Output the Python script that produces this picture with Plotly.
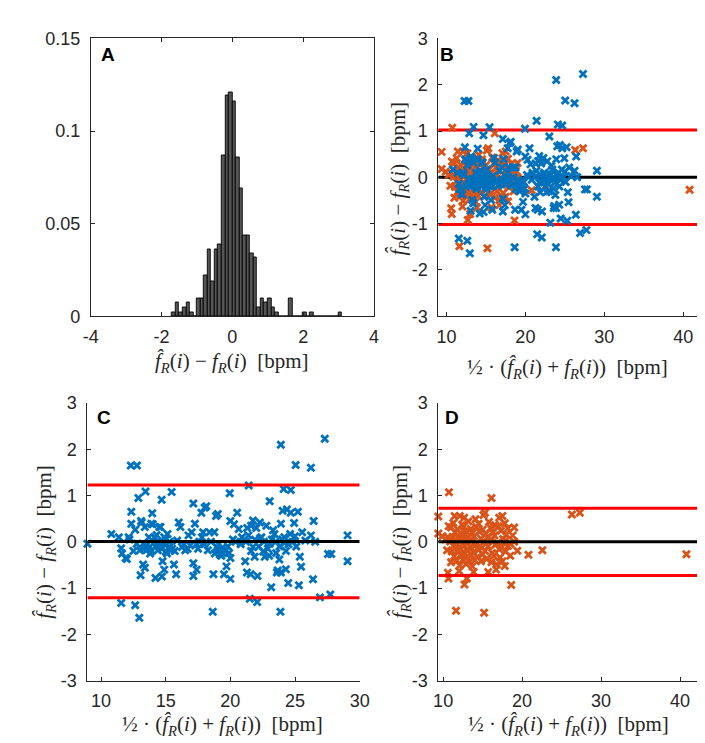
import plotly.graph_objects as go

W, H = 705, 743

# ---------------- data ----------------
hist_centers = [-1.65, -1.55, -1.45, -1.35, -1.25, -1.15, -1.05, -0.95, -0.85, -0.75,
                -0.65, -0.55, -0.45, -0.35, -0.25, -0.15, -0.05, 0.05, 0.15, 0.25,
                0.35, 0.45, 0.55, 0.65, 0.75, 0.85, 0.95, 1.05, 1.15, 1.25,
                1.35, 1.45, 1.55, 1.65, 1.75, 1.85, 1.95, 2.05, 2.15, 2.25,
                2.35, 2.45, 2.55, 2.65, 2.75, 2.85, 2.95, 3.05]
hist_density = [0.0023, 0.0074, 0.0023, 0.0047, 0.0074, 0.0023, 0.0, 0.0096, 0.0096, 0.022,
                0.036, 0.019, 0.036, 0.0386, 0.087, 0.119, 0.121, 0.116, 0.0856, 0.069,
                0.0437, 0.0437, 0.034, 0.0316, 0.0049, 0.0096, 0.0074, 0.0096, 0.0049, 0.0023,
                0.0, 0.0, 0.0, 0.0096, 0.0, 0.0, 0.0, 0.0023, 0.0, 0.0023,
                0.0, 0.0, 0.0, 0.0, 0.0, 0.0, 0.0, 0.0023]

blue_mean = [8.95, 10.8, 11.38, 11.56, 11.63, 11.9, 12.0, 12.14, 12.34, 12.34,
             12.3, 12.78, 11.56, 12.64, 12.96, 12.64, 12.76, 12.89, 13.0, 13.14,
             13.26, 13.39, 13.06, 13.44, 13.39, 13.26, 13.51, 13.76, 13.89, 13.96,
             14.14, 14.21, 14.39, 14.51, 14.56, 14.69, 14.71, 14.76, 14.89, 14.89,
             15.01, 15.14, 15.26, 15.46, 15.64, 15.81, 15.89, 16.01, 16.14, 16.26,
             16.51, 16.76, 17.01, 17.14, 17.14, 17.14, 17.26, 17.39, 17.39, 17.76,
             17.89, 18.01, 18.14, 18.26, 18.39, 18.64, 18.69, 18.76, 18.89, 18.96,
             19.26, 19.03, 19.03, 19.40, 19.9, 19.95, 20.28, 20.53, 20.65, 20.4,
             21.15, 21.28, 21.4, 21.42, 21.5, 21.57, 21.6, 21.75, 21.75, 21.88,
             22.07, 22.1, 22.28, 22.53, 22.66, 22.78, 23.04, 23.04, 23.16, 23.41,
             23.54, 23.66, 23.79, 23.87, 23.91, 24.04, 24.12, 24.17, 24.29, 24.37,
             24.47, 24.62, 24.67, 24.67, 24.93, 25.05, 25.22, 25.3, 25.37, 25.47,
             25.55, 25.8, 26.23, 26.23, 26.39, 26.44, 26.56, 26.93, 27.55, 27.8,
             27.73, 29.06, 29.06, 23.9, 27.3, 19.5, 19.7, 20.0, 20.0, 23.6,
             23.9, 14.0, 14.6, 13.1,
             13.3, 13.6, 13.9, 14.2, 14.4, 14.7, 14.9, 15.1, 15.3, 15.5,
             15.7, 15.0, 14.3, 13.7, 16.4, 16.7, 17.6, 17.5, 17.8, 18.0,
             18.5, 18.8, 19.1, 19.3, 19.6, 19.8, 20.0, 20.2, 20.8, 21.2,
             21.6, 21.9, 22.2, 22.4, 22.6, 22.9, 23.2, 23.5, 23.8, 24.0,
             24.3, 24.5, 24.8, 25.1, 23.3, 22.0, 21.3, 20.9, 12.5, 12.2,
             13.8, 14.5, 15.4, 16.9, 19.4, 19.2, 22.3, 24.2, 25.0, 23.0]
blue_diff = [-0.04, 0.17, 0.10, -0.14, -0.25, -0.35, -0.37, 0.10, 0.39, 0.65,
             1.65, 1.65, -1.32, -1.37, -1.64, 0.26, -0.04, 0.95, -0.18, 0.42,
             -0.49, -0.56, -0.72, 1.09, 0.32, -0.04, -0.18, -0.11, 0.39, 0.62,
             0.10, -0.78, -0.18, 0.32, -0.04, 0.91, -0.75, -0.42, -0.60, 0.10,
             -0.21, 0.17, -0.11, 1.08, -0.49, -0.70, 0.03, 0.42, 0.32, -0.11,
             -0.18, 0.14, 0.21, 0.83, -0.46, -0.74, 0.39, -0.60, -0.04, 0.63,
             0.21, 0.74, 0.77, -0.18, 0.21, -1.51, -0.70, 0.21, 0.56, -0.11,
             -0.18, 0.60, -0.17, -0.24, -0.24, 1.05, 0.38, 0.63, 0.28, 0.0,
             -0.42, -0.66, 0.14, 1.22, -1.23, -0.70, 0.35, 0.46, -0.11, -0.32,
             -1.30, -0.74, 0.42, -0.21, -0.32, 0.35, 0.88, -0.04, -0.98, 0.17,
             -0.24, -0.62, -0.38, -1.51, 0.39, 0.67, 1.14, 0.10, -0.59, 0.70,
             -0.89, 0.17, 1.12, 0.63, 0.41, 1.66, 0.65, -0.94, -0.32, -0.54,
             0.21, 0.03, 1.60, 0.14, -0.81, 0.45, 0.0, -1.20, -0.26, -0.26,
             -1.14, 0.14, -0.42, 2.10, 2.23, -0.70, -0.53, -0.80, 0.45, -0.66,
             -0.66, 0.38, 0.32, 0.45,
             -0.15, -0.05, -0.20, -0.10, 0.00, -0.15, -0.05, -0.25, 0.00, -0.15,
             -0.20, 0.05, 0.15, 0.10, -0.05, -0.15, 0.00, -0.15, 0.10, -0.05,
             0.00, -0.25, -0.05, -0.30, -0.20, -0.10, -0.35, 0.05, -0.05, 0.00,
             -0.20, 0.05, -0.10, 0.10, 0.00, -0.15, 0.05, 0.00, -0.10, 0.05,
             -0.20, -0.05, 0.00, -0.10, 0.25, 0.30, 0.30, 0.10, -0.20, 0.05,
             -0.25, -0.10, -0.18, -0.08, -0.12, -0.28, 0.08, -0.02, 0.12, -0.30]

orange_mean = [9.39, 9.39, 10.74, 16.12, 10.7, 10.5, 10.6, 10.6, 10.67, 11.0,
               11.64, 15.19, 12.7, 13.0, 12.03, 13.86, 15.7, 16.7, 16.12, 17.5,
               19.39, 20.8, 22.56, 18.62, 19.0, 18.8, 17.5, 17.1, 15.1, 15.3,
               14.1, 12.66, 11.45, 12.1, 26.3, 27.3, 40.8, 19.0, 18.5, 10.3,
               9.9,
               11.3, 12.4, 13.2, 14.5, 15.8, 16.6, 17.8,
               11.0, 11.8, 12.6, 13.5, 14.2, 15.0, 16.0, 17.0, 18.2,
               11.5, 12.2, 12.9, 13.7, 14.6, 15.4, 16.3, 17.3, 18.0,
               11.2, 11.9, 12.5, 13.2, 13.9, 14.8, 15.6, 16.5, 17.6,
               10.9, 11.6, 12.3, 13.0, 13.6, 14.3, 15.2, 16.1, 16.9, 17.8, 18.5,
               11.3, 12.0, 12.7, 13.4, 14.1, 14.9, 15.7, 16.6, 17.4, 18.2,
               11.1, 11.8, 12.5, 13.1, 13.8, 14.5, 15.3, 16.2, 17.1, 17.9,
               11.4, 12.2, 12.9, 13.6, 14.4, 15.0, 16.4, 17.2,
               11.7, 12.5, 13.3, 14.0, 14.8, 15.5,
               12.1, 12.9, 13.7, 16.8, 17.8]
orange_diff = [0.55, 0.18, 1.07, 0.95, 0.34, -0.18, 0.10, -0.67, -0.79, -0.44,
               -1.49, -1.53, -0.92, -0.79, -0.63, -0.65, -0.65, -0.60, -0.44, -0.42,
               -0.19, -0.28, -0.18, -0.93, 0.31, 0.14, 0.56, 0.52, 0.58, 0.63,
               0.49, 0.52, 0.56, 0.56, 0.59, 0.63, -0.27, 0.00, -0.30, 0.05,
               0.12,
               0.41, 0.37, 0.44, 0.39, 0.43, 0.36, 0.40,
               0.31, 0.27, 0.33, 0.28, 0.32, 0.26, 0.30, 0.34, 0.29,
               0.21, 0.18, 0.23, 0.19, 0.22, 0.17, 0.20, 0.24, 0.16,
               0.11, 0.08, 0.13, 0.09, 0.12, 0.07, 0.10, 0.14, 0.06,
               0.01, -0.02, 0.03, -0.01, 0.02, -0.03, 0.00, 0.04, -0.02, 0.01, -0.04,
               -0.09, -0.12, -0.08, -0.11, -0.07, -0.13, -0.10, -0.06, -0.12, -0.09,
               -0.21, -0.18, -0.22, -0.19, -0.23, -0.17, -0.20, -0.24, -0.16, -0.21,
               -0.31, -0.28, -0.33, -0.29, -0.32, -0.27, -0.30, -0.34,
               -0.41, -0.38, -0.43, -0.39, -0.42, -0.37,
               -0.51, -0.48, -0.53, -0.49, -0.52]

bias_all, loa_all = 0.0, 1.02
bias_blue, loa_blue = 0.01, 1.22
bias_orange, loa_orange = 0.0, 0.725

# ---------------- styling helpers ----------------
BLUE = "#0072BD"
ORANGE = "#D95319"
AX = "#262626"
TICKFONT = dict(family="Liberation Sans, Arial, sans-serif", size=18, color=AX)


def px_x(p):
    return p / W


def px_y(p):
    return 1 - p / H


dom = {
    "A": ([px_x(76.7), px_x(367.3)], [px_y(306.5), px_y(21)]),
    "B": ([px_x(433.3), 1.0], [px_y(306.5), px_y(21)]),
    "C": ([px_x(73.3), px_x(352.7)], [px_y(681), px_y(395.7)]),
    "D": ([px_x(433.3), 1.0], [px_y(681), px_y(395.7)]),
}
xr = {"A": [-4, 4], "B": [8.96, 42.5], "C": [8.95, 30], "D": [9.38, 42.9]}
yr = {"A": [0, 0.15], "B": [-3, 3], "C": [-3, 3], "D": [-3, 3]}
names = ["A", "B", "C", "D"]
axid = {"A": ("x", "y"), "B": ("x2", "y2"), "C": ("x3", "y3"), "D": ("x4", "y4")}

fig = go.Figure()

# Panel A histogram
fig.add_trace(go.Bar(x=hist_centers, y=hist_density, width=0.1,
                     marker=dict(color="#555555", line=dict(color="#000000", width=0.9)),
                     xaxis="x", yaxis="y", showlegend=False))


def hline(panel, yv, color):
    xa, ya = axid[panel]
    fig.add_trace(go.Scatter(x=xr[panel], y=[yv, yv], mode="lines",
                             line=dict(color=color, width=3),
                             xaxis=xa, yaxis=ya, showlegend=False, hoverinfo="skip"))


def pts(panel, xs, ys, color):
    xa, ya = axid[panel]
    fig.add_trace(go.Scatter(x=xs, y=ys, mode="markers",
                             marker=dict(symbol="x-thin-open", size=7,
                                         line=dict(color=color, width=2.8), color=color),
                             cliponaxis=False,
                             xaxis=xa, yaxis=ya, showlegend=False))


# Panel B: lines beneath markers
hline("B", bias_all, "#000000")
hline("B", bias_all + loa_all, "#FF0000")
hline("B", bias_all - loa_all, "#FF0000")
pts("B", orange_mean, orange_diff, ORANGE)
pts("B", blue_mean, blue_diff, BLUE)

# Panel C
pts("C", blue_mean, blue_diff, BLUE)
hline("C", bias_blue, "#000000")
hline("C", bias_blue + loa_blue, "#FF0000")
hline("C", bias_blue - loa_blue, "#FF0000")

# Panel D
pts("D", orange_mean, orange_diff, ORANGE)
hline("D", bias_orange, "#000000")
hline("D", bias_orange + loa_orange, "#FF0000")
hline("D", bias_orange - loa_orange, "#FF0000")

xtick_vals = {"A": [-4, -2, 0, 2, 4], "B": [10, 20, 30, 40], "C": [10, 15, 20, 25, 30], "D": [10, 20, 30, 40]}
xtick_text = {"A": ["-4", "-2", "0", "2", "4"], "B": ["10", "20", "30", "40"],
              "C": ["10", "15", "20", "25", "30"], "D": ["10", "20", "30", "40"]}
ytick_vals = {"A": [0, 0.05, 0.1, 0.15]}
ytick_text = {"A": ["0", "0.05", "0.1", "0.15"]}
for p in ["B", "C", "D"]:
    ytick_vals[p] = [-3, -2, -1, 0, 1, 2, 3]
    ytick_text[p] = ["-3", "-2", "-1", "0", "1", "2", "3"]

layout = dict(width=W, height=H, margin=dict(l=0, r=0, t=0, b=0),
              paper_bgcolor="white", plot_bgcolor="white", bargap=0)
for i, p in enumerate(names):
    sfx = "" if i == 0 else str(i + 1)
    mirror = "allticks" if p == "A" else False
    layout["xaxis" + sfx] = dict(domain=dom[p][0], range=xr[p], anchor="y" + sfx,
                                 tickvals=xtick_vals[p], ticktext=xtick_text[p],
                                 ticks="inside", ticklen=4, tickwidth=0.8, tickcolor=AX,
                                 showline=True, linecolor=AX, linewidth=0.9, mirror=mirror,
                                 showgrid=False, zeroline=False, tickfont=TICKFONT,
                                 ticklabelstandoff=4)
    layout["yaxis" + sfx] = dict(domain=dom[p][1], range=yr[p], anchor="x" + sfx,
                                 tickvals=ytick_vals[p], ticktext=ytick_text[p],
                                 ticks="inside", ticklen=4, tickwidth=0.8, tickcolor=AX,
                                 showline=True, linecolor=AX, linewidth=0.9, mirror=mirror,
                                 showgrid=False, zeroline=False, tickfont=TICKFONT,
                                 ticklabelstandoff=6)
fig.update_layout(**layout)

SERIF = dict(family="Liberation Serif, DejaVu Serif, serif", size=21, color=AX)
diff_label = "<i>f̂</i><sub><i>R</i></sub>(<i>i</i>) − <i>f</i><sub><i>R</i></sub>(<i>i</i>)  [bpm]"
mean_label = "½ · (<i>f̂</i><sub><i>R</i></sub>(<i>i</i>) + <i>f</i><sub><i>R</i></sub>(<i>i</i>))  [bpm]"

anns = [
    (222, 354, diff_label, 0),
    (566, 360, mean_label, 0),
    (212, 727, mean_label, 0),
    (567, 727, mean_label, 0),
    (393, 165, diff_label, -90),
    (30, 538, diff_label, -90),
    (395, 538, diff_label, -90),
]
for xp, yp, txt, ang in anns:
    fig.add_annotation(x=px_x(xp), y=px_y(yp), xref="paper", yref="paper",
                       text=txt, showarrow=False, textangle=ang, font=SERIF,
                       xanchor="center", yanchor="middle")

letters = [("A", 94, 37), ("B", 442, 37), ("C", 90, 411), ("D", 447, 411)]
for t, xp, yp in letters:
    fig.add_annotation(x=px_x(xp), y=px_y(yp), xref="paper", yref="paper",
                       text="<b>%s</b>" % t, showarrow=False,
                       font=dict(family="Liberation Sans, Arial, sans-serif", size=19, color="#000000"),
                       xanchor="center", yanchor="middle")

fig.write_html("out.html")
